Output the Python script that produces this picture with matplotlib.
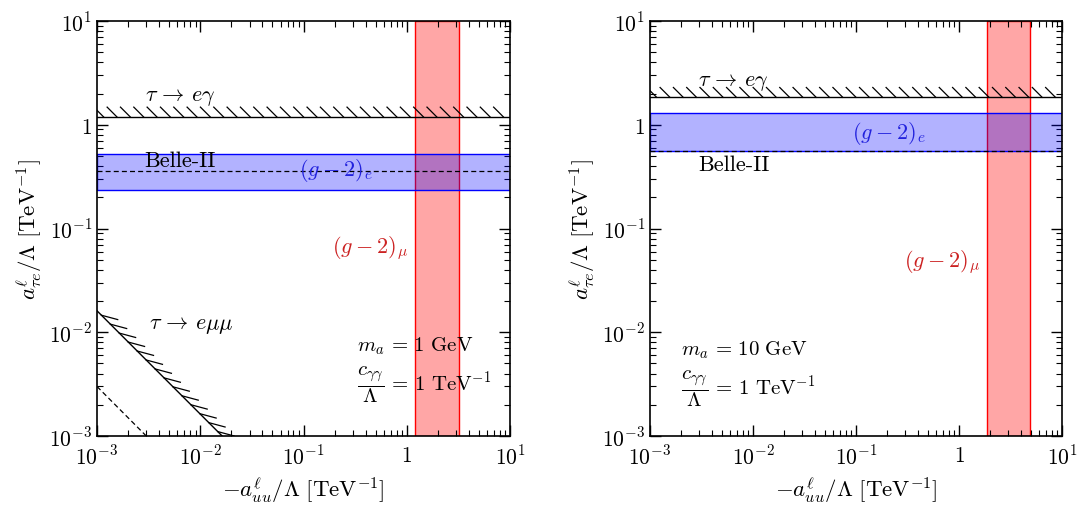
import matplotlib
matplotlib.use("Agg")
import matplotlib.pyplot as plt
import matplotlib.patheffects as pe
from matplotlib.ticker import LogLocator, FuncFormatter, NullFormatter
import numpy as np

plt.rcParams['mathtext.fontset'] = 'cm'
plt.rcParams['font.family'] = ['DejaVu Serif']

# ---------------- data ----------------
xlim = [1e-3, 10]
ylim = [1e-3, 10]

# left panel (m_a = 1 GeV)
L_tau_egamma = 1.19
L_ge_band = [0.236, 0.525]
L_belle = 0.36
L_gmu_band = [1.195, 3.19]
L_tau_emumu_x = [1e-3, 0.0163]
L_tau_emumu_y = [0.0161, 1e-3]
L_dashed_x = [1e-3, 0.0030]
L_dashed_y = [0.0030, 1e-3]

# right panel (m_a = 10 GeV)
R_tau_egamma = 1.84
R_ge_band = [0.563, 1.29]
R_belle = 0.563
R_gmu_band = [1.87, 4.89]

fig = plt.figure(figsize=(10.77, 5.06), dpi=100)
axL = fig.add_axes([97/1077, 69/506, 413/1077, 415/506])
axR = fig.add_axes([650/1077, 69/506, 412/1077, 415/506])


def fmt(v, pos):
    e = int(round(np.log10(v)))
    if e == 0:
        return '$1$'
    return '$10^{%d}$' % e


def setup(ax):
    ax.set_xscale('log')
    ax.set_yscale('log')
    ax.set_xlim(xlim)
    ax.set_ylim(ylim)
    for axis in (ax.xaxis, ax.yaxis):
        axis.set_major_locator(LogLocator(base=10, numticks=10))
        axis.set_minor_locator(LogLocator(base=10, subs=np.arange(2, 10), numticks=10))
        axis.set_major_formatter(FuncFormatter(fmt))
        axis.set_minor_formatter(NullFormatter())
    ax.tick_params(which='both', direction='in', top=True, right=True, labelsize=15.5)
    ax.tick_params(which='major', length=8, width=1)
    ax.tick_params(which='minor', length=4, width=0.8)
    ax.tick_params(axis='x', pad=6)
    for s in ax.spines.values():
        s.set_linewidth(1.2)
    ax.set_xlabel(r'$-a^{\ell}_{uu}/\Lambda\ [\mathrm{TeV}^{-1}]$', fontsize=16.5)
    ax.set_ylabel(r'$a^{\ell}_{\tau e}/\Lambda\ [\mathrm{TeV}^{-1}]$', fontsize=16.5)


hatch_h = [pe.withTickedStroke(angle=135, spacing=9.5, length=1.05, linewidth=0.9)]

for ax, teg, ge, belle, gmu in [(axL, L_tau_egamma, L_ge_band, L_belle, L_gmu_band),
                               (axR, R_tau_egamma, R_ge_band, R_belle, R_gmu_band)]:
    setup(ax)
    ax.axvspan(gmu[0], gmu[1], facecolor=(1, 0, 0, 0.35), edgecolor='red', lw=1.0, zorder=1)
    ax.axhspan(ge[0], ge[1], facecolor=(0, 0, 1, 0.3), edgecolor='blue', lw=1.0, zorder=2)
    ax.plot(xlim, [teg, teg], color='black', lw=1.0, path_effects=hatch_h, zorder=3)
    ax.plot(xlim, [belle, belle], color='black', lw=0.9, ls=(0, (4, 2.5)), zorder=3)

# left extras
axL.plot(L_tau_emumu_x, L_tau_emumu_y, color='black', lw=1.0, zorder=3,
         path_effects=[pe.withTickedStroke(angle=30, spacing=9, length=1.35, linewidth=0.9)])
axL.plot(L_dashed_x, L_dashed_y, color='black', lw=0.9, ls=(0, (4, 2.5)), zorder=3)

fs = 16
fs2 = 15
tau_eg = r'$\tau\, \rightarrow\, e\gamma$'
frac = r'$\dfrac{c_{\gamma\gamma}}{\Lambda}\,=\,1\ \mathrm{TeV}^{-1}$'
blue_t = '#2222dd'
red_t = '#cc2222'

axL.text(0.0029, 1.89, tau_eg, fontsize=fs, va='center', ha='left')
axL.text(0.0029, 0.457, 'Belle-II', fontsize=fs, va='center', ha='left', family='cmr10')
axL.text(0.0904, 0.374, r'$(g-2)_e$', fontsize=fs, va='center', ha='left', color=blue_t)
axL.text(0.189, 0.0664, r'$(g-2)_\mu$', fontsize=fs, va='center', ha='left', color=red_t)
axL.text(0.00319, 0.012, r'$\tau\, \rightarrow\, e\mu\mu$', fontsize=fs, va='center', ha='left')
axL.text(0.33, 0.0075, r'$m_a\,=\,1\ \mathrm{GeV}$', fontsize=fs2, va='center', ha='left', zorder=5)
axL.text(0.33, 0.00316, frac, fontsize=fs2, va='center', ha='left', zorder=5)

axR.text(0.00292, 2.63, tau_eg, fontsize=fs, va='center', ha='left')
axR.text(0.091, 0.85, r'$(g-2)_e$', fontsize=fs, va='center', ha='left', color=blue_t)
axR.text(0.00292, 0.419, 'Belle-II', fontsize=fs, va='center', ha='left', family='cmr10')
axR.text(0.292, 0.0486, r'$(g-2)_\mu$', fontsize=fs, va='center', ha='left', color=red_t)
axR.text(0.0020, 0.0069, r'$m_a\,=\,10\ \mathrm{GeV}$', fontsize=fs2, va='center', ha='left')
axR.text(0.0020, 0.0029, frac, fontsize=fs2, va='center', ha='left')

fig.savefig('out.png', dpi=100)
